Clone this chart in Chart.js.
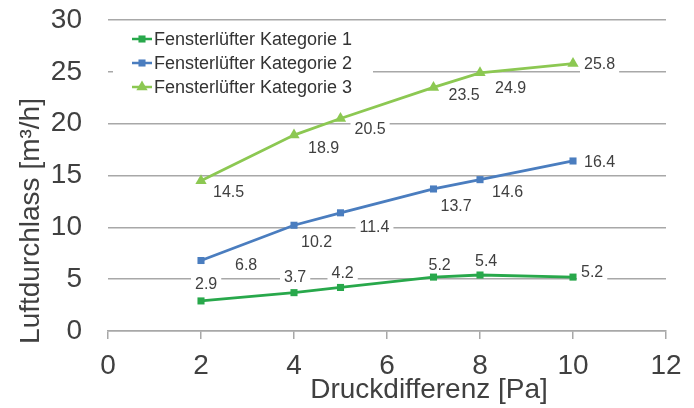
<!DOCTYPE html>
<html>
<head>
<meta charset="utf-8">
<script src="https://cdn.jsdelivr.net/npm/chart.js@4.4.1/dist/chart.umd.min.js"></script>
<style>
  html, body { margin: 0; padding: 0; background: #fff; }
  canvas { display: block; }
</style>
</head>
<body>
<canvas id="chart" width="694" height="408"></canvas>
<script>
const pressure = [2, 4, 5, 7, 8, 10];
const kategorie1 = [2.9, 3.7, 4.2, 5.2, 5.4, 5.2];
const kategorie2 = [6.8, 10.2, 11.4, 13.7, 14.6, 16.4];
const kategorie3 = [14.5, 18.9, 20.5, 23.5, 24.9, 25.8];
const seriesNames = ['Fensterlüfter Kategorie 1', 'Fensterlüfter Kategorie 2', 'Fensterlüfter Kategorie 3'];
const xTicks = [0, 2, 4, 6, 8, 10, 12];
const yTicks = [0, 5, 10, 15, 20, 25, 30];
const xTitle = 'Druckdifferenz [Pa]';
const yTitle = 'Luftdurchlass [m³/h]';

const colors = ['#28a84b', '#4a7dbf', '#8cc852'];
const markers = ['rect', 'rect', 'triangle'];
const markerSize = [5, 5, 6.5];
// where each value label sits relative to its point: [dx to left edge, dy to middle]
const labelOffsets = [
  [[-6, -16], [-10, -15], [-9, -14], [-5, -11], [-5, -13], [8, -4]],
  [[34, 5], [7, 17], [19, 15], [7, 18], [12, 13], [11, 2]],
  [[12, 12], [14, 14], [14, 11], [15, 8], [15, 16], [11, 1]]
];
const gridColor = '#a8a8a8';
const textColor = '#404040';
const FONT = "'Liberation Sans', Arial, sans-serif";

Chart.defaults.font.family = FONT;
Chart.defaults.color = textColor;

function toPoints(ys) {
  return pressure.map((x, i) => ({ x, y: ys[i] }));
}

const allSeries = [kategorie1, kategorie2, kategorie3];

function drawMarker(ctx, style, r, x, y) {
  ctx.beginPath();
  if (style === 'triangle') {
    ctx.moveTo(x, y - r);
    ctx.lineTo(x + r * 0.866, y + r * 0.5);
    ctx.lineTo(x - r * 0.866, y + r * 0.5);
    ctx.closePath();
  } else {
    const s = r * Math.SQRT1_2;
    ctx.rect(x - s, y - s, 2 * s, 2 * s);
  }
  ctx.fill();
}

function eachLabel(chart, fn) {
  const ctx = chart.ctx;
  ctx.font = '16px ' + FONT;
  chart.data.datasets.forEach((ds, di) => {
    const meta = chart.getDatasetMeta(di);
    meta.data.forEach((pt, i) => {
      const text = allSeries[di][i].toFixed(1);
      const [dx, dy] = labelOffsets[di][i];
      const w = ctx.measureText(text).width;
      fn(text, pt.x + dx, pt.y + dy, w);
    });
  });
}

// legend sits inside the plot, top left, on a white box
const legendBox = { x: 113, y: 26, w: 260, h: 74, lineX: 132, lineLen: 20, textX: 154, rowY: 39, rowGap: 24 };

const labelPlugin = {
  id: 'valueLabels',
  beforeDatasetsDraw(chart) {
    const ctx = chart.ctx;
    ctx.save();
    ctx.fillStyle = '#fff';
    ctx.fillRect(legendBox.x, legendBox.y, legendBox.w, legendBox.h);
    eachLabel(chart, (text, x, y, w) => ctx.fillRect(x - 4, y - 9, w + 8, 18));
    ctx.restore();
  },
  afterDatasetsDraw(chart) {
    const ctx = chart.ctx;
    ctx.save();
    ctx.fillStyle = textColor;
    ctx.textAlign = 'left';
    ctx.textBaseline = 'middle';
    eachLabel(chart, (text, x, y) => ctx.fillText(text, x, y));

    ctx.font = '18px ' + FONT;
    chart.data.datasets.forEach((ds, i) => {
      const y = legendBox.rowY + i * legendBox.rowGap;
      ctx.strokeStyle = ds.borderColor;
      ctx.fillStyle = ds.borderColor;
      ctx.lineWidth = 2.5;
      ctx.beginPath();
      ctx.moveTo(legendBox.lineX, y);
      ctx.lineTo(legendBox.lineX + legendBox.lineLen, y);
      ctx.stroke();
      drawMarker(ctx, markers[i], markerSize[i], legendBox.lineX + legendBox.lineLen / 2, y);
      ctx.fillStyle = '#333';
      ctx.fillText(ds.label, legendBox.textX, y + 1);
    });
    ctx.restore();
  }
};

const axisTitles = {
  id: 'axisTitles',
  afterDraw(chart) {
    const ctx = chart.ctx;
    ctx.save();
    ctx.fillStyle = textColor;
    ctx.font = '28px ' + FONT;
    ctx.textAlign = 'center';
    ctx.textBaseline = 'middle';
    ctx.fillText(xTitle, 429, 390);
    ctx.translate(31, 221);
    ctx.rotate(-Math.PI / 2);
    ctx.fillText(yTitle, 0, 0);
    ctx.restore();
  }
};

new Chart(document.getElementById('chart').getContext('2d'), {
  type: 'line',
  data: {
    datasets: allSeries.map((ys, i) => ({
      label: seriesNames[i],
      data: toPoints(ys),
      borderColor: colors[i],
      backgroundColor: colors[i],
      borderWidth: 2.8,
      pointStyle: markers[i],
      pointRadius: markerSize[i],
      pointBorderWidth: 0,
      tension: 0
    }))
  },
  options: {
    responsive: false,
    animation: false,
    layout: { padding: { top: 20, right: 28, left: 0, bottom: 0 } },
    scales: {
      x: {
        type: 'linear',
        min: 0, max: 12,
        afterBuildTicks: s => { s.ticks = xTicks.map(v => ({ value: v })); },
        afterFit: s => { s.height = 77; s.paddingLeft = 0; s.paddingRight = 0; },
        grid: { drawOnChartArea: false, color: gridColor, lineWidth: 1.5, tickLength: 8 },
        border: { color: gridColor, width: 1.5 },
        ticks: { font: { size: 28 }, color: textColor, padding: 10, maxRotation: 0 }
      },
      y: {
        min: 0, max: 30,
        afterBuildTicks: s => { s.ticks = yTicks.map(v => ({ value: v })); },
        afterFit: s => { s.width = 108; s.paddingTop = 0; s.paddingBottom = 0; },
        grid: { color: gridColor, lineWidth: 1.5, drawTicks: false },
        border: { display: false },
        ticks: { font: { size: 28 }, color: textColor, padding: 26 }
      }
    },
    plugins: {
      legend: { display: false },
      tooltip: { enabled: false }
    }
  },
  plugins: [labelPlugin, axisTitles]
});
</script>
</body>
</html>
